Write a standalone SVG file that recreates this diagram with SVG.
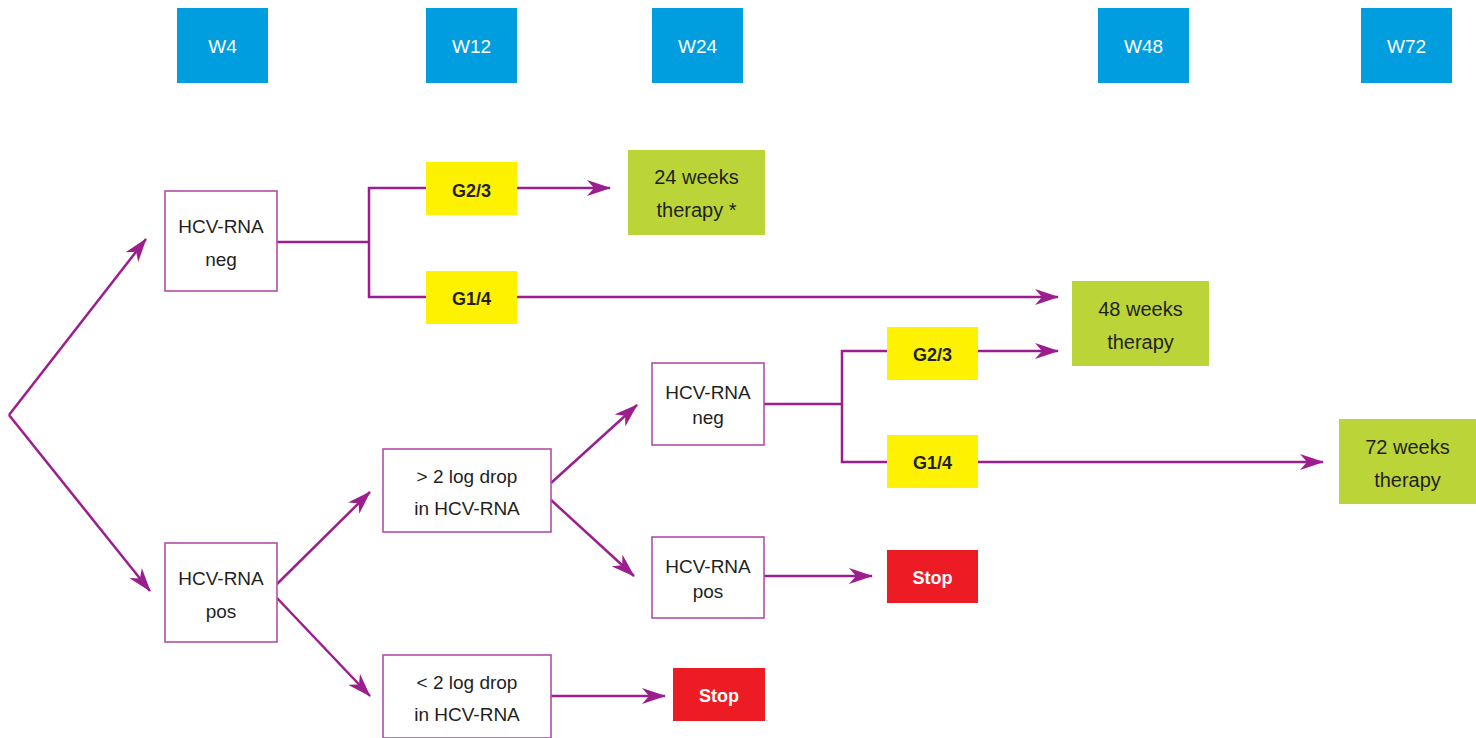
<svg xmlns="http://www.w3.org/2000/svg" width="1476" height="738" viewBox="0 0 1476 738">
<defs>
<marker id="ah" viewBox="0 0 24 16" refX="23" refY="8" markerWidth="24" markerHeight="16" markerUnits="userSpaceOnUse" orient="auto">
<path d="M0,0 L24,8 L0,16 L7,8 z" fill="#9c1e8e"/>
</marker>
<style>
.hdr{fill:#009ddf}
.hdrt{fill:#ffffff;font-family:"Liberation Sans",Arial,sans-serif;font-size:19px;text-anchor:middle}
.box{fill:#ffffff;stroke:#b04fa6;stroke-width:1.6}
.t{fill:#231f20;font-family:"Liberation Sans",Arial,sans-serif;font-size:19px;text-anchor:middle}
.tg{fill:#231f20;font-family:"Liberation Sans",Arial,sans-serif;font-size:20px;text-anchor:middle}
.g{fill:#fff200}
.gt{fill:#231f20;font-family:"Liberation Sans",Arial,sans-serif;font-size:18px;font-weight:bold;text-anchor:middle}
.grn{fill:#bbd538}
.red{fill:#ed1c24}
.st{fill:#ffffff;font-family:"Liberation Sans",Arial,sans-serif;font-size:18px;font-weight:bold;text-anchor:middle}
.c{fill:none;stroke:#9c1e8e;stroke-width:2.5}
.a{marker-end:url(#ah)}
</style>
</defs>
<rect width="1476" height="738" fill="#ffffff"/>
<g id="connectors">
<path class="c a" d="M9,415 L146,239"/>
<path class="c a" d="M9,415 L150,591"/>
<path class="c" d="M277,242 H369"/>
<path class="c" d="M426,188 H369 V297 H426"/>
<path class="c a" d="M517,188 H610"/>
<path class="c a" d="M517,297 H1058"/>
<path class="c a" d="M277,584 L370,492"/>
<path class="c a" d="M277,598 L370,696"/>
<path class="c a" d="M551,483 L637,405"/>
<path class="c a" d="M551,500 L634,576"/>
<path class="c a" d="M551,696 H665"/>
<path class="c" d="M764,404 H842"/>
<path class="c" d="M887,351 H842 V462 H887"/>
<path class="c a" d="M978,351 H1058"/>
<path class="c a" d="M978,462 H1323"/>
<path class="c a" d="M764,576 H872"/>
</g>
<g id="w4"><rect class="hdr" x="177" y="8" width="91" height="75"/><text class="hdrt" x="222.5" y="53">W4</text></g>
<g id="w12"><rect class="hdr" x="426" y="8" width="91" height="75"/><text class="hdrt" x="471.5" y="53">W12</text></g>
<g id="w24"><rect class="hdr" x="652" y="8" width="91" height="75"/><text class="hdrt" x="697.5" y="53">W24</text></g>
<g id="w48"><rect class="hdr" x="1098" y="8" width="91" height="75"/><text class="hdrt" x="1143.5" y="53">W48</text></g>
<g id="w72"><rect class="hdr" x="1361" y="8" width="91" height="75"/><text class="hdrt" x="1406.5" y="53">W72</text></g>
<g id="neg1"><rect class="box" x="165" y="191" width="112" height="100"/><text class="t" x="221" y="233">HCV-RNA</text><text class="t" x="221" y="266">neg</text></g>
<g id="pos1"><rect class="box" x="165" y="543" width="112" height="99"/><text class="t" x="221" y="585">HCV-RNA</text><text class="t" x="221" y="618">pos</text></g>
<g id="g23a"><rect class="g" x="426" y="162" width="91" height="53"/><text class="gt" x="471.5" y="197">G2/3</text></g>
<g id="g14a"><rect class="g" x="426" y="271" width="91" height="53"/><text class="gt" x="471.5" y="305">G1/4</text></g>
<g id="w24t"><rect class="grn" x="628" y="150" width="137" height="85"/><text class="tg" x="696.5" y="184">24 weeks</text><text class="tg" x="696.5" y="217">therapy *</text></g>
<g id="w48t"><rect class="grn" x="1072" y="281" width="137" height="85"/><text class="tg" x="1140.5" y="316">48 weeks</text><text class="tg" x="1140.5" y="349">therapy</text></g>
<g id="w72t"><rect class="grn" x="1339" y="419" width="137" height="85"/><text class="tg" x="1407.5" y="454">72 weeks</text><text class="tg" x="1407.5" y="487">therapy</text></g>
<g id="gt2"><rect class="box" x="383" y="449" width="168" height="83"/><text class="t" x="467" y="483">&gt; 2 log drop</text><text class="t" x="467" y="515">in HCV-RNA</text></g>
<g id="lt2"><rect class="box" x="383" y="655" width="168" height="83"/><text class="t" x="467" y="689">&lt; 2 log drop</text><text class="t" x="467" y="721">in HCV-RNA</text></g>
<g id="stop2"><rect class="red" x="673" y="668" width="92" height="53"/><text class="st" x="719" y="702">Stop</text></g>
<g id="neg2"><rect class="box" x="652" y="363" width="112" height="82"/><text class="t" x="708" y="399">HCV-RNA</text><text class="t" x="708" y="424">neg</text></g>
<g id="pos2"><rect class="box" x="652" y="537" width="112" height="81"/><text class="t" x="708" y="573">HCV-RNA</text><text class="t" x="708" y="598">pos</text></g>
<g id="g23b"><rect class="g" x="887" y="327" width="91" height="53"/><text class="gt" x="932.5" y="361">G2/3</text></g>
<g id="g14b"><rect class="g" x="887" y="435" width="91" height="53"/><text class="gt" x="932.5" y="469">G1/4</text></g>
<g id="stop1"><rect class="red" x="887" y="550" width="91" height="53"/><text class="st" x="932.5" y="584">Stop</text></g>
</svg>
